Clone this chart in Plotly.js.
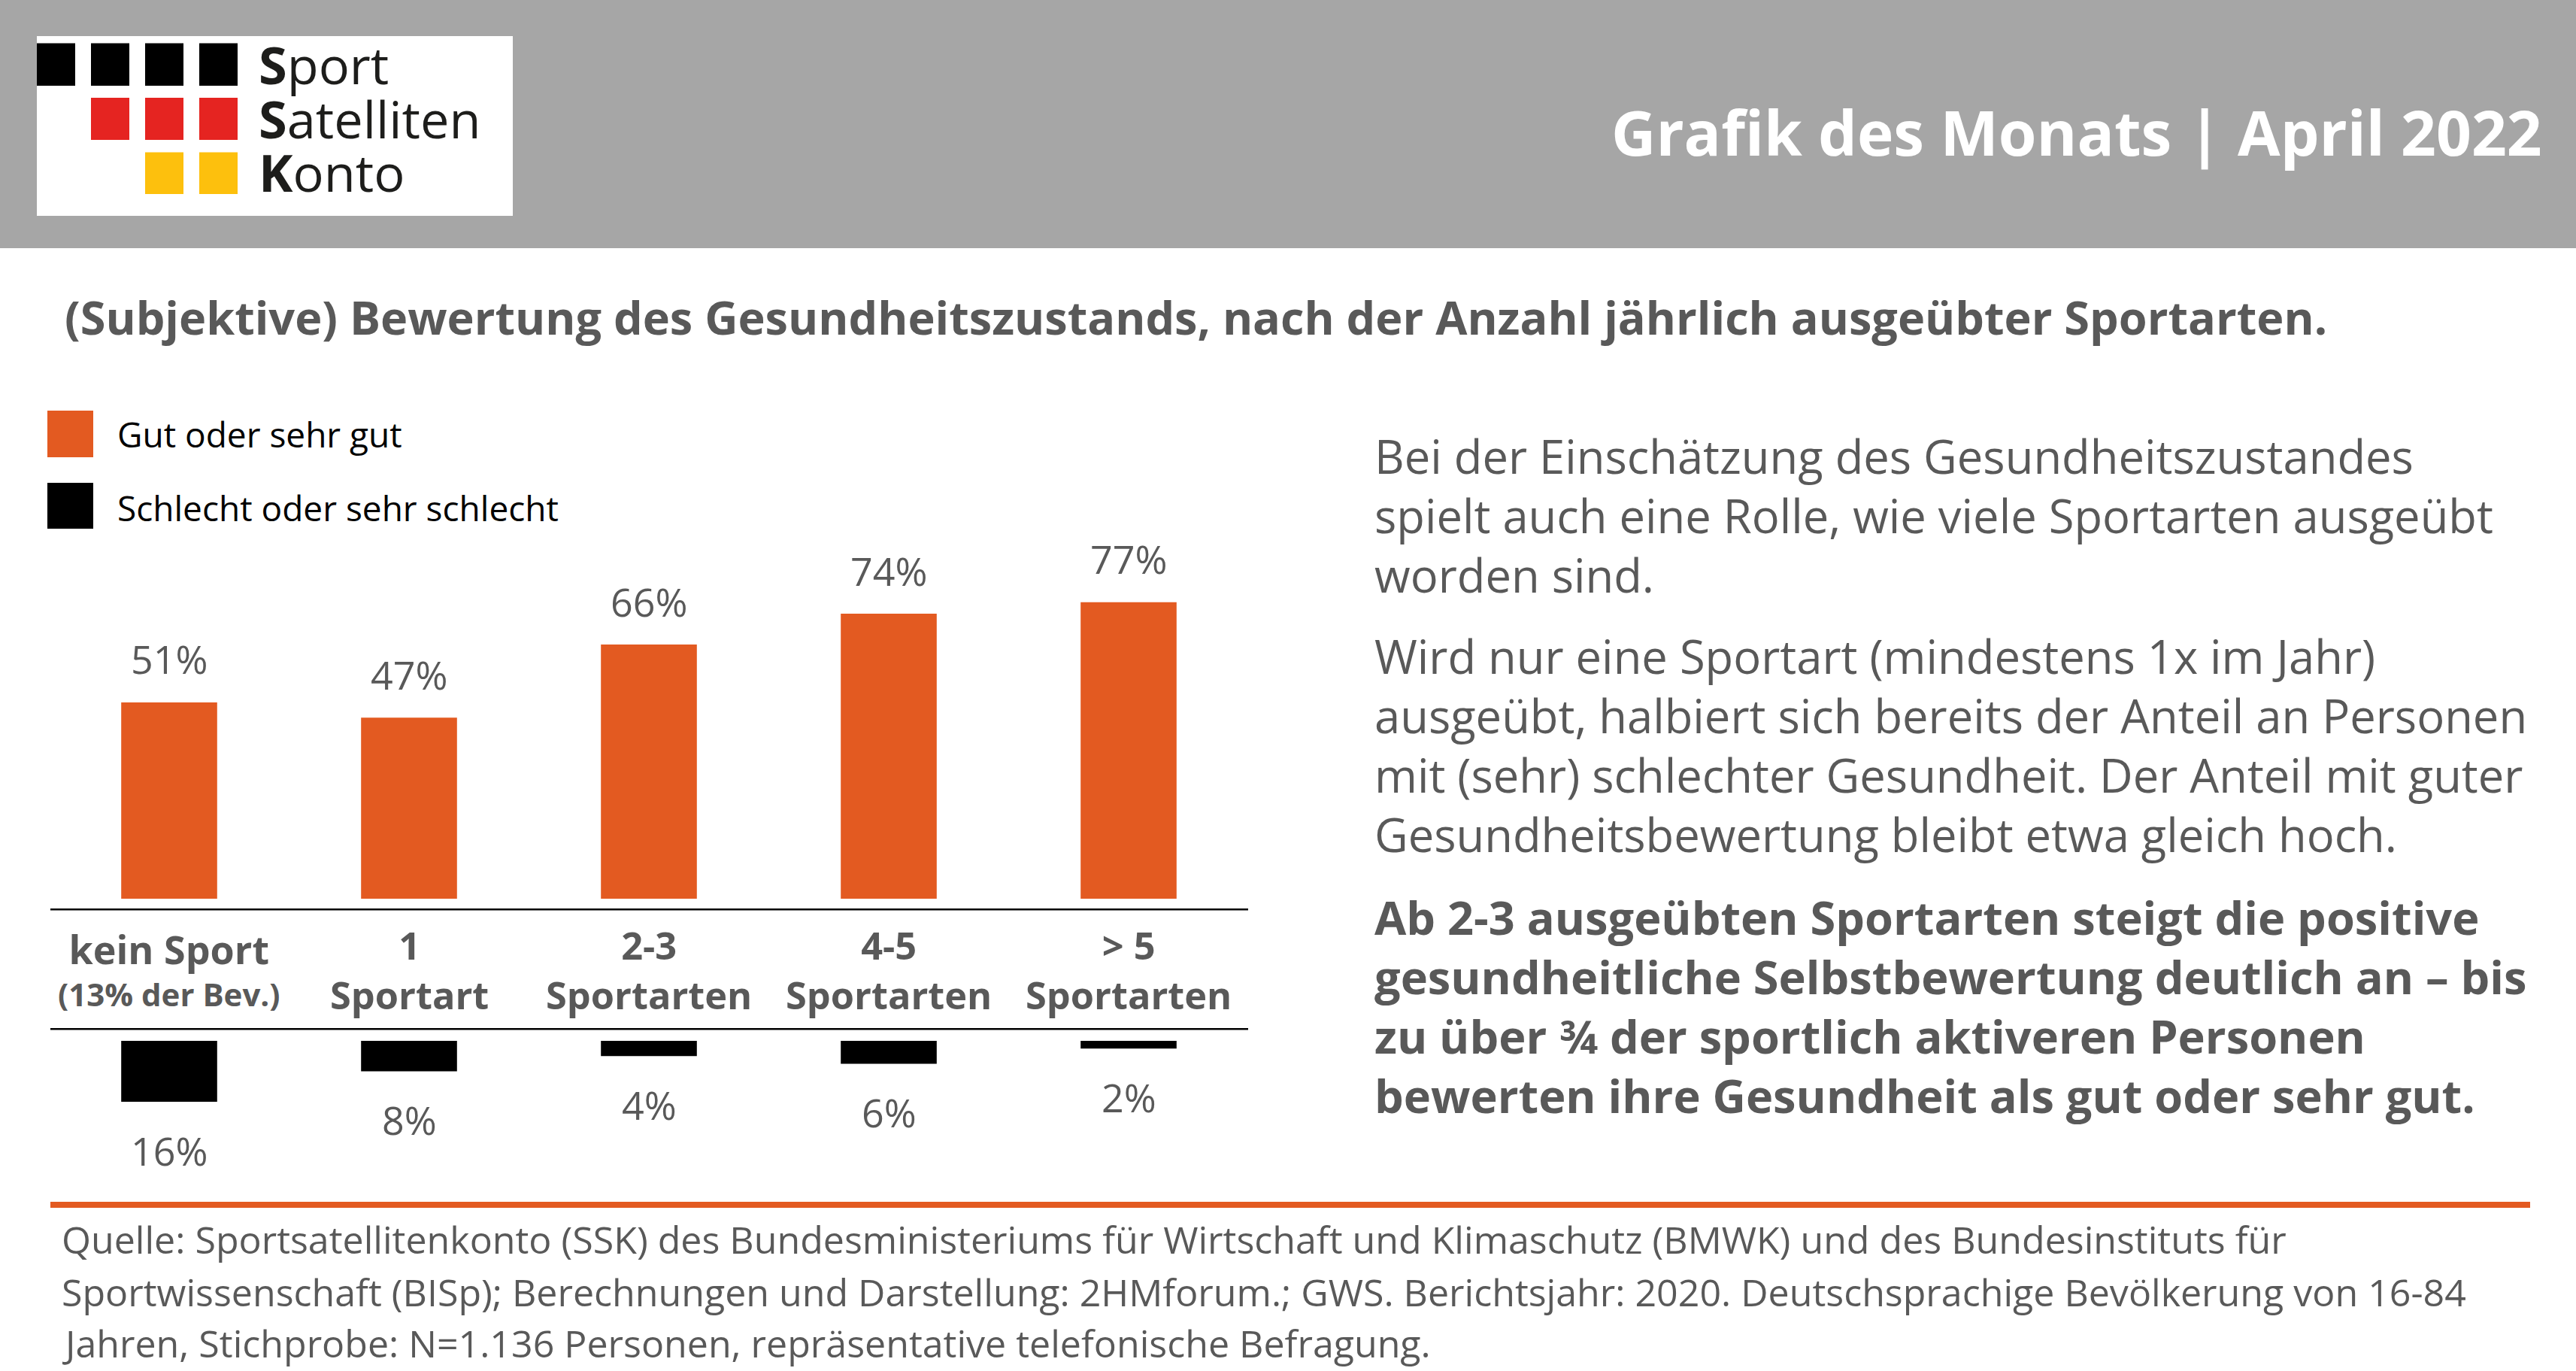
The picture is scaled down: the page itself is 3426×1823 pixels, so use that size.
<!DOCTYPE html>
<html><head><meta charset="utf-8">
<script src="https://cdn.plot.ly/plotly-3.0.1.min.js"></script>
<style>html,body{margin:0;padding:0;background:#fff;overflow:hidden}</style>
</head><body><div id="chart" style="width:3426px;height:1823px"></div>
<script>
const categories = ['kein Sport','1 Sportart','2-3 Sportarten','4-5 Sportarten','> 5 Sportarten'];
const goodValues = [51,47,66,74,77];
const badValues = [16,8,4,6,2];
const seriesNames = ['Gut oder sehr gut','Schlecht oder sehr schlecht'];
const catLine1 = ['kein Sport','1','2-3','4-5','> 5'];
const catLine2 = ['(13% der Bev.)','Sportart','Sportarten','Sportarten','Sportarten'];
const headerText = 'Grafik des Monats | April 2022';
const subtitleText = '(Subjektive) Bewertung des Gesundheitszustands, nach der Anzahl jährlich ausgeübter Sportarten.';
const logoLines = ['<b>S</b>port','<b>S</b>atelliten','<b>K</b>onto'];
const para1 = ['Bei der Einschätzung des Gesundheitszustandes','spielt auch eine Rolle, wie viele Sportarten ausgeübt','worden sind.'];
const para2 = ['Wird nur eine Sportart (mindestens 1x im Jahr)','ausgeübt, halbiert sich bereits der Anteil an Personen','mit (sehr) schlechter Gesundheit. Der Anteil mit guter','Gesundheitsbewertung bleibt etwa gleich hoch.'];
const para3 = ['Ab 2-3 ausgeübten Sportarten steigt die positive','gesundheitliche Selbstbewertung deutlich an – bis','zu über ¾ der sportlich aktiveren Personen','bewerten ihre Gesundheit als gut oder sehr gut.'];
const footerLines = ['Quelle: Sportsatellitenkonto (SSK) des Bundesministeriums für Wirtschaft und Klimaschutz (BMWK) und des Bundesinstituts für','Sportwissenschaft (BISp); Berechnungen und Darstellung: 2HMforum.; GWS. Berichtsjahr: 2020. Deutschsprachige Bevölkerung von 16-84','Jahren, Stichprobe: N=1.136 Personen, repräsentative telefonische Befragung.'];

const W=3426,H=1823, FONT='"Open Sans", sans-serif', GREY='#595959', ORANGE='#E35A21';
const px=x=>x/W, py=y=>1-y/H;
const rect=(x0,y0,x1,y1,c)=>({type:'rect',xref:'paper',yref:'paper',x0:px(x0),x1:px(x1),y0:py(y0),y1:py(y1),fillcolor:c,line:{width:0},layer:'below'});
const txt=(s,x,y,size,color,anchor)=>({text:s,xref:'paper',yref:'paper',x:px(x),y:py(y),xanchor:anchor||'left',yanchor:'middle',align:anchor||'left',showarrow:false,borderpad:0,font:{family:FONT,size:size,color:color}});
const sized=(lines,size,bold)=>lines.map(s=>'<span style="font-size:'+size+'px">'+(bold?'<b>'+s+'</b>':s)+'</span>').join('<br>');
const catLabel=(c,i,size,y,s)=>({text:s,xref:'x',yref:'paper',x:c,y:py(y),xanchor:'center',yanchor:'middle',showarrow:false,borderpad:0,font:{family:FONT,size:size,color:GREY}});

const shapes=[
 rect(0,0,W,330,'#A6A6A6'),
 rect(49,48,682,287,'#FFFFFF'),
 ...[49,121,193,265].map(x=>rect(x,57.5,x+51,114,'#000000')),
 ...[121,193,265].map(x=>rect(x,130,x+51,186,'#E52421')),
 ...[193,265].map(x=>rect(x,202.5,x+51,258,'#FDC00D')),
 rect(63,546,124,608,ORANGE),
 rect(63,642,124,703,'#000000'),
 rect(67,1208,1660,1210.5,'#000000'),
 rect(67,1367,1660,1369.5,'#000000'),
 rect(67,1598,3365,1606,ORANGE)
];

const annotations=[
 txt('<b>'+headerText+'</b>',3382,175,82,'#FFFFFF','right'),
 txt('<b>'+subtitleText+'</b>',85,422,61.2,GREY),
 txt(sized(logoLines,68.5),343,157,55,'#1D1D1B'),
 txt(seriesNames[0],155,577,46,'#000000'),
 txt(seriesNames[1],155,675,46,'#000000'),
 txt(sized(para1,61.5),1827,685,60.7,GREY),
 txt(sized(para2,61.5),1827,990,60.7,GREY),
 txt(sized(para3,61.3,true),1827,1337,60.7,GREY),
 ...footerLines.map((s,i)=>txt(s,81,[1647,1717,1785][i],50.1,GREY)),
 ...categories.map((c,i)=>i===0
   ? catLabel(c,i,43,1288,'<span style="font-size:52px"><b>'+catLine1[i]+'</b></span><br><span style="font-size:42px"><b>'+catLine2[i]+'</b></span>')
   : catLabel(c,i,50.5,1289,'<b>'+catLine1[i]+'</b><br><b>'+catLine2[i]+'</b>')),
 ...categories.map((c,i)=>({text:goodValues[i]+'%',xref:'x',yref:'y',x:c,y:goodValues[i],yshift:58,xanchor:'center',yanchor:'middle',showarrow:false,borderpad:0,font:{family:FONT,size:52,color:GREY}})),
 ...categories.map((c,i)=>({text:badValues[i]+'%',xref:'x2',yref:'y2',x:c,y:badValues[i],yshift:-64,xanchor:'center',yanchor:'middle',showarrow:false,borderpad:0,font:{family:FONT,size:52,color:GREY}}))
];

const data=[
 {type:'bar',name:seriesNames[0],x:categories,y:goodValues,xaxis:'x',yaxis:'y',marker:{color:ORANGE},width:0.4,hoverinfo:'skip'},
 {type:'bar',name:seriesNames[1],x:categories,y:badValues,xaxis:'x2',yaxis:'y2',marker:{color:'#000000'},width:0.4,hoverinfo:'skip'}
];
const hiddenAxis={showgrid:false,zeroline:false,showticklabels:false,ticks:'',showline:false,fixedrange:true};
const layout={
 width:W,height:H,margin:{l:0,r:0,t:0,b:0},paper_bgcolor:'#FFFFFF',plot_bgcolor:'rgba(0,0,0,0)',showlegend:false,
 font:{family:FONT,color:GREY},
 xaxis:{...hiddenAxis,domain:[px(65.5),px(1660.5)],anchor:'y',type:'category',categoryarray:categories,range:[-0.5,4.5]},
 yaxis:{...hiddenAxis,domain:[py(1195),py(683)],anchor:'x',range:[0,100]},
 xaxis2:{...hiddenAxis,domain:[px(65.5),px(1660.5)],anchor:'y2',type:'category',categoryarray:categories,range:[-0.5,4.5]},
 yaxis2:{...hiddenAxis,domain:[py(1485.4),py(1384)],anchor:'x2',range:[20,0]},
 shapes,annotations
};
Plotly.newPlot('chart',data,layout,{displayModeBar:false,responsive:false});
</script></body></html>
